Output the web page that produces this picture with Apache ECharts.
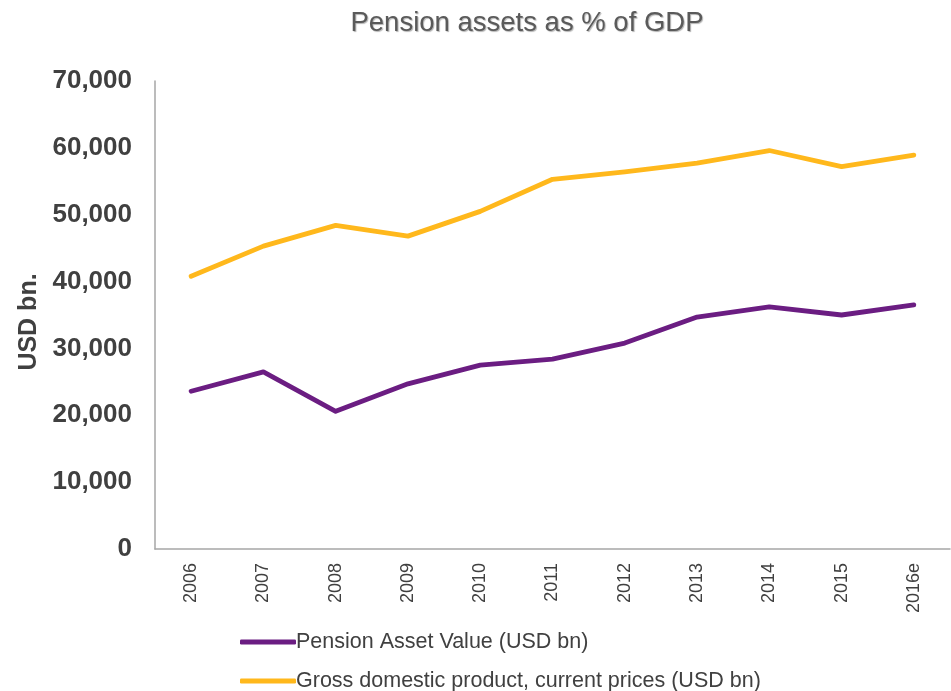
<!DOCTYPE html>
<html>
<head>
<meta charset="utf-8">
<script src="https://cdn.jsdelivr.net/npm/echarts@6/dist/echarts.min.js"></script>
<style>
  html, body { margin: 0; padding: 0; background: #fff; }
  #chart { width: 951px; height: 691px; }
</style>
</head>
<body>
<div id="chart"></div>
<script>
// 年份
var years = ['2006', '2007', '2008', '2009', '2010', '2011', '2012', '2013', '2014', '2015', '2016e']
// 养老金资产 (USD bn)
var pensionAssets = [23600, 26500, 20600, 24700, 27500, 28400, 30800, 34700, 36200, 35000, 36500]
// GDP (USD bn)
var gdpValues = [40800, 45300, 48400, 46800, 50500, 55300, 56400, 57700, 59600, 57200, 58900]

var pensionName = 'Pension Asset Value (USD bn)'
var gdpName = 'Gross domestic product, current prices (USD bn)'
var font = 'Arial, "Liberation Sans", sans-serif'

// 图例公共样式
var legendBase = {
  orient: 'vertical',
  left: 240,
  padding: 0,
  itemWidth: 56,
  itemHeight: 5,
  icon: 'roundRect',
  textStyle: {
    color: '#404040',
    fontFamily: font,
    fontSize: 21.5,
    padding: [0, 0, 0, -5]
  }
}

var chart = echarts.init(document.getElementById('chart'))
var option = {
  animation: false,
  title: {
    text: 'Pension assets as % of GDP',
    left: 522,
    top: 4,
    textAlign: 'center',
    textStyle: {
      color: '#5a5a5a',
      fontFamily: font,
      fontSize: 27.5,
      fontWeight: 'normal',
      textShadowColor: 'rgba(0,0,0,0.3)',
      textShadowBlur: 1,
      textShadowOffsetX: 1,
      textShadowOffsetY: 1
    }
  },
  grid: {
    left: 155,
    right: 1,
    top: 81,
    bottom: 142
  },
  legend: [
    Object.assign({}, legendBase, { top: 631, data: [pensionName] }),
    Object.assign({}, legendBase, { top: 670, data: [gdpName] })
  ],
  xAxis: {
    type: 'category',
    data: years,
    boundaryGap: true,
    axisLine: { lineStyle: { color: '#a6a6a6', width: 1.5 } },
    axisTick: { show: false },
    axisLabel: {
      rotate: 90,
      margin: 14,
      color: '#404040',
      fontFamily: font,
      fontSize: 18
    }
  },
  yAxis: {
    type: 'value',
    min: 0,
    max: 70000,
    interval: 10000,
    name: 'USD bn.',
    nameLocation: 'middle',
    nameGap: 112,
    nameTextStyle: {
      color: '#404040',
      fontFamily: font,
      fontSize: 25,
      fontWeight: 'bold',
      padding: [0, 14, 0, 0]
    },
    axisLine: { show: true, lineStyle: { color: '#a6a6a6', width: 1.5 } },
    axisTick: { show: false },
    splitLine: { show: false },
    axisLabel: {
      margin: 23,
      color: '#404040',
      fontFamily: font,
      fontSize: 26,
      fontWeight: 'bold',
      formatter: function (v) { return v.toLocaleString('en-US') }
    }
  },
  series: [
    {
      name: pensionName,
      type: 'line',
      data: pensionAssets,
      symbol: 'none',
      color: '#6b1d82',
      lineStyle: { width: 4.8, cap: 'round', join: 'round' }
    },
    {
      name: gdpName,
      type: 'line',
      data: gdpValues,
      symbol: 'none',
      color: '#ffb81c',
      lineStyle: { width: 4.8, cap: 'round', join: 'round' }
    }
  ]
}
chart.setOption(option)
</script>
</body>
</html>
